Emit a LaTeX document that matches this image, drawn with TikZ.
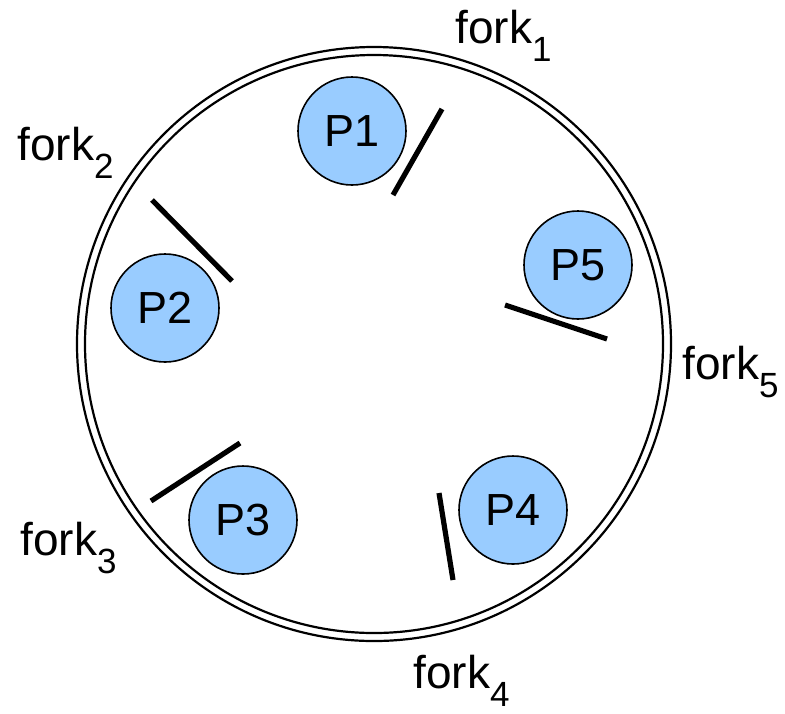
\documentclass[tikz,border=0pt]{standalone}
\usepackage{fontspec}
\setmainfont{Liberation Sans}
% fork label with lowered index
\newcommand{\forklabel}[1]{fork\raisebox{-9pt}{\fontsize{17.5pt}{17.5pt}\selectfont #1}}
\begin{document}
\begin{tikzpicture}[x=0.5pt,y=-0.5pt,
  phil/.style={circle,draw=black,line width=0.8pt,fill=philblue,minimum size=54pt,inner sep=0pt,
    font=\fontsize{22.5pt}{22.5pt}\selectfont},
  forkbar/.style={line width=2.6pt,line cap=butt},
  table/.style={line width=1.1pt},
  forktext/.style={anchor=base west,inner sep=0pt,font=\fontsize{23pt}{23pt}\selectfont}]
\definecolor{philblue}{HTML}{99CCFF}
\useasboundingbox (0,0) rectangle (785,713);

% the table: two concentric rings
\coordinate (centre) at (374,344);
\draw[table] (centre) circle[radius=148.5pt];
\draw[table] (centre) circle[radius=144.5pt];

% philosophers
\node[phil] (p1) at (352,131) {P1};
\node[phil] (p2) at (165,308) {P2};
\node[phil] (p3) at (243,520) {P3};
\node[phil] (p4) at (513,510) {P4};
\node[phil] (p5) at (578,265) {P5};

% forks
\coordinate (f1a) at (442,109); \coordinate (f1b) at (393,195);
\coordinate (f2a) at (152,200); \coordinate (f2b) at (232,281);
\coordinate (f3a) at (240,443); \coordinate (f3b) at (151,501);
\coordinate (f4a) at (439,493); \coordinate (f4b) at (453,580);
\coordinate (f5a) at (505,305); \coordinate (f5b) at (607,339);
\draw[forkbar] (f1a) -- (f1b);
\draw[forkbar] (f2a) -- (f2b);
\draw[forkbar] (f3a) -- (f3b);
\draw[forkbar] (f4a) -- (f4b);
\draw[forkbar] (f5a) -- (f5b);

% fork labels
\node[forktext] (l1) at (455,43)  {\forklabel{1}};
\node[forktext] (l2) at (17,160)  {\forklabel{2}};
\node[forktext] (l3) at (20,555)  {\forklabel{3}};
\node[forktext] (l4) at (413,688) {\forklabel{4}};
\node[forktext] (l5) at (682,379) {\forklabel{5}};
\end{tikzpicture}
\end{document}
